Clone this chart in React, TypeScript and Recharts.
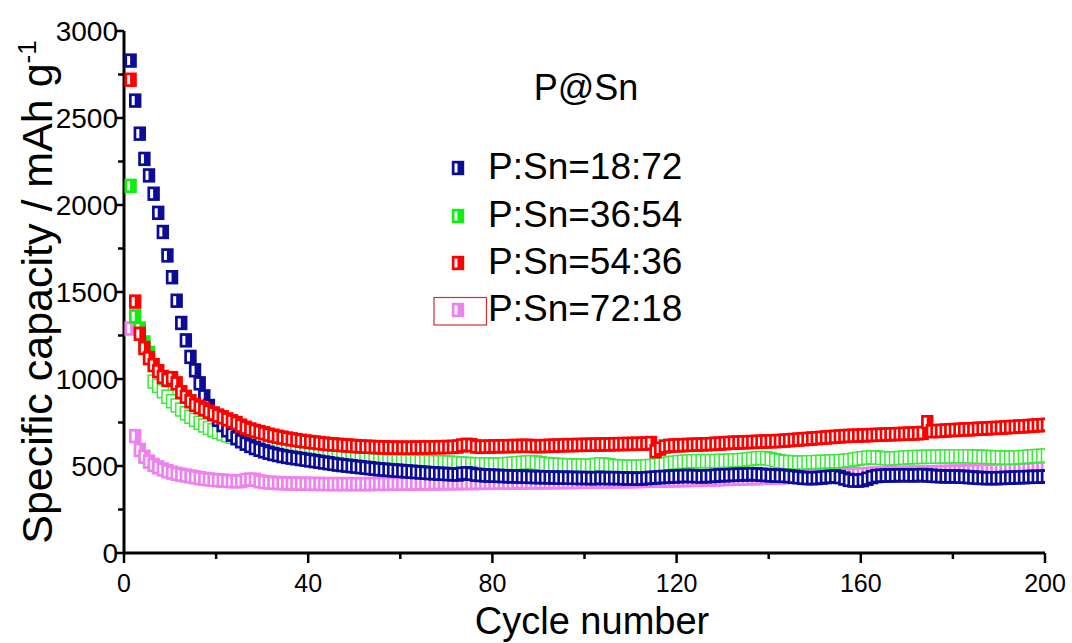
import React from 'react';
import { ScatterChart, Scatter, XAxis, YAxis } from 'recharts';

// cycle index (x categories)
const cycles: number[] = Array.from({ length: 200 }, (_, i) => i + 1);

// Specific capacity (mAh g-1), cycle 1..200
const capSn1872: number[] = [
  2830, 2600, 2410, 2265, 2170, 2065, 1955, 1845, 1710, 1585,
  1450, 1322, 1222, 1127, 1050, 975, 900, 845, 800, 765,
  735, 705, 680, 660, 642, 628, 615, 603, 593, 584,
  576, 569, 563, 557, 552, 548, 544, 540, 536, 532,
  528, 524, 520, 516, 512, 508, 505, 502, 499, 496,
  493, 490, 487, 484, 481, 479, 477, 475, 473, 471,
  469, 467, 465, 463, 461, 459, 458, 456, 455, 453,
  452, 451, 456, 458, 455, 450, 448, 446, 445, 444,
  443, 442, 441, 440, 440, 439, 438, 437, 436, 436,
  435, 434, 434, 433, 433, 432, 432, 431, 431, 431,
  430, 430, 432, 431, 430, 431, 430, 429, 428, 428,
  427, 428, 430, 432, 434, 436, 437, 438, 440, 441,
  442, 443, 442, 441, 440, 441, 442, 444, 446, 447,
  448, 449, 450, 451, 452, 453, 452, 450, 448, 446,
  445, 444, 443, 441, 438, 435, 432, 430, 430, 431,
  433, 436, 438, 440, 436, 428, 420, 416, 416, 419,
  427, 436, 442, 444, 445, 446, 446, 447, 447, 447,
  446, 447, 448, 446, 444, 442, 441, 440, 440, 440,
  439, 438, 436, 434, 432, 431, 430, 430, 430, 431,
  432, 433, 434, 435, 436, 437, 438, 438, 439, 440,
];

const capSn3654: number[] = [
  2110, 1360, 1290, 1210, 1150, 985, 960, 930, 898, 872,
  848, 825, 803, 783, 765, 748, 733, 718, 705, 695,
  686, 677, 668, 660, 652, 644, 637, 630, 624, 618,
  612, 606, 600, 595, 590, 585, 580, 576, 572, 568,
  564, 560, 557, 554, 551, 549, 547, 545, 543, 541,
  539, 537, 535, 533, 531, 530, 529, 528, 527, 526,
  526, 525, 525, 524, 524, 523, 522, 522, 521, 520,
  518, 516, 514, 512, 511, 510, 510, 509, 509, 508,
  508, 510, 512, 514, 516, 518, 520, 522, 520, 516,
  512, 510, 508, 506, 505, 504, 503, 502, 502, 501,
  502, 506, 510, 508, 504, 500, 498, 497, 496, 496,
  496, 497, 498, 500, 503, 507, 511, 515, 519, 522,
  524, 526, 527, 528, 528, 528, 528, 528, 529, 530,
  531, 532, 533, 535, 538, 541, 544, 546, 545, 540,
  533, 528, 524, 522, 521, 520, 520, 521, 522, 523,
  524, 525, 526, 527, 528, 530, 533, 537, 541, 545,
  548, 550, 549, 546, 544, 543, 544, 546, 548, 550,
  551, 552, 552, 553, 553, 554, 554, 555, 555, 556,
  556, 556, 556, 555, 554, 553, 552, 551, 550, 549,
  548, 548, 549, 550, 552, 554, 556, 558, 559, 560,
];

const capSn5436: number[] = [
  2720, 1445, 1260, 1178, 1120, 1080, 1045, 1012, 995, 1005,
  975, 925, 898, 872, 851, 838, 826, 812, 801, 790,
  780, 768, 757, 747, 732, 720, 710, 702, 695, 688,
  680, 674, 668, 663, 658, 653, 649, 645, 641, 638,
  635, 632, 629, 626, 624, 622, 620, 618, 616, 614,
  612, 611, 610, 609, 608, 607, 606, 606, 605, 605,
  605, 605, 606, 606, 607, 607, 608, 608, 609, 609,
  610, 612, 618, 622, 620, 612, 610, 611, 612, 613,
  613, 614, 614, 615, 615, 616, 616, 615, 614, 614,
  615, 616, 617, 618, 619, 620, 620, 621, 621, 622,
  622, 623, 623, 624, 624, 625, 626, 626, 627, 627,
  628, 628, 629, 632, 585, 600, 612, 616, 618, 619,
  620, 621, 622, 623, 624, 625, 626, 628, 629, 631,
  633, 634, 635, 636, 637, 638, 639, 640, 641, 642,
  643, 644, 646, 648, 650, 652, 654, 656, 658, 660,
  662, 664, 666, 668, 670, 672, 673, 674, 675, 676,
  677, 678, 679, 680, 681, 682, 683, 684, 685, 686,
  687, 688, 690, 752, 700, 701, 702, 704, 706, 707,
  708, 710, 711, 712, 714, 715, 716, 718, 719, 720,
  722, 724, 725, 727, 728, 730, 732, 734, 735, 737,
];

const capSn7218: number[] = [
  1290, 672, 592, 553, 525, 506, 492, 480, 470, 462,
  455, 450, 445, 440, 435, 430, 426, 423, 420, 418,
  416, 414, 413, 412, 413, 420, 422, 421, 412, 408,
  405, 403, 402, 401, 400, 399, 399, 398, 398, 397,
  397, 397, 396, 396, 396, 396, 396, 396, 396, 396,
  396, 396, 396, 397, 397, 397, 397, 398, 398, 398,
  398, 399, 399, 399, 400, 400, 400, 400, 401, 401,
  401, 401, 402, 402, 402, 402, 403, 403, 403, 403,
  404, 404, 404, 404, 405, 405, 405, 405, 406, 406,
  406, 406, 407, 407, 407, 408, 408, 408, 409, 409,
  409, 410, 410, 410, 411, 411, 412, 412, 412, 413,
  413, 414, 414, 415, 415, 416, 416, 417, 417, 418,
  419, 419, 420, 421, 421, 422, 423, 423, 424, 425,
  426, 426, 427, 428, 429, 430, 430, 431, 432, 433,
  434, 435, 436, 437, 438, 439, 440, 441, 442, 443,
  444, 445, 446, 447, 448, 449, 450, 451, 452, 453,
  454, 455, 456, 456, 457, 458, 459, 459, 460, 461,
  462, 462, 463, 464, 464, 465, 466, 466, 467, 468,
  468, 469, 470, 470, 471, 472, 473, 473, 474, 475,
  476, 477, 478, 479, 480, 481, 482, 484, 486, 488,
];

const seriesNames: string[] = ['P:Sn=18:72', 'P:Sn=36:54', 'P:Sn=54:36', 'P:Sn=72:18'];
const seriesColors: string[] = ['#0c0c96', '#10ee10', '#ff0000', '#ee82ee'];
const xTicks: number[] = [0, 20, 40, 60, 80, 100, 120, 140, 160, 180, 200];
const yTicks: number[] = [0, 250, 500, 750, 1000, 1250, 1500, 1750, 2000, 2250, 2500, 2750, 3000];

const toPoints = (vals: number[]) => cycles.map((c, i) => ({ cycle: c, cap: vals[i] }));
const dBlue = toPoints(capSn1872);
const dGreen = toPoints(capSn3654);
const dRed = toPoints(capSn5436);
const dPink = toPoints(capSn7218);

const FONT = 'Liberation Sans, Arial, Helvetica, sans-serif';
const MW = 11;
const MH = 13;

function HalfSquare({ cx, cy, color, hollow }: { cx: number; cy: number; color: string; hollow?: boolean }) {
  if (cx == null || cy == null) return null;
  const x = cx - MW / 2 + 2;
  const y = cy - MH / 2;
  if (hollow) {
    return <rect x={x} y={y} width={MW} height={MH} fill="#f4fff4" stroke={color} strokeWidth={1.5} />;
  }
  return (
    <g>
      <rect x={x} y={y} width={MW} height={MH} fill={color} stroke={color} strokeWidth={1.4} />
      <rect x={x + 2} y={y + 2} width={3} height={MH - 4} fill="#ffffff" />
    </g>
  );
}

const XTick = (props: any) => {
  const { x, y, payload } = props;
  const major = payload.value % 40 === 0;
  return (
    <g>
      <line x1={x} x2={x} y1={y} y2={y + (major ? 10 : 6)} stroke="#000" strokeWidth={2.5} />
      {major && (
        <text x={x} y={y + 39} textAnchor="middle" fontFamily={FONT} fontSize={25} fill="#000">
          {payload.value}
        </text>
      )}
    </g>
  );
};

const YTick = (props: any) => {
  const { x, y, payload } = props;
  const major = payload.value % 500 === 0;
  return (
    <g>
      <line x1={x} x2={x - (major ? 9 : 6)} y1={y} y2={y} stroke="#000" strokeWidth={2.5} />
      {major && (
        <text x={x - 6} y={y + 10} textAnchor="end" fontFamily={FONT} fontSize={28} fill="#000">
          {payload.value}
        </text>
      )}
    </g>
  );
};

export default function App() {
  const axisLine = { stroke: '#000', strokeWidth: 3 };
  return (
    <div style={{ position: 'absolute', left: 0, top: 0, width: 1072, height: 643, background: '#fff' }}>
      <ScatterChart width={1072} height={643} margin={{ top: 31, right: 27, bottom: 0, left: 0 }}>
        <XAxis
          xAxisId="b"
          dataKey="cycle"
          type="number"
          domain={[0, 200]}
          ticks={xTicks}
          tick={<XTick />}
          tickLine={false}
          tickSize={0}
          tickMargin={0}
          axisLine={axisLine}
          height={90}
          allowDataOverflow
        />
        <XAxis xAxisId="t" orientation="top" type="number" domain={[0, 200]} tick={false} tickLine={false} axisLine={axisLine} height={0} allowDataOverflow />
        <YAxis
          yAxisId="l"
          dataKey="cap"
          type="number"
          domain={[0, 3000]}
          ticks={yTicks}
          tick={<YTick />}
          tickLine={false}
          tickSize={0}
          tickMargin={0}
          axisLine={axisLine}
          width={124}
          allowDataOverflow
        />
        <YAxis yAxisId="r" orientation="right" type="number" domain={[0, 3000]} tick={false} tickLine={false} axisLine={axisLine} width={0} allowDataOverflow />
        <Scatter xAxisId="b" yAxisId="l" name={seriesNames[3]} data={dPink} isAnimationActive={false}
          shape={(p: any) => <HalfSquare cx={p.cx} cy={p.cy} color={seriesColors[3]} />} />
        <Scatter xAxisId="b" yAxisId="l" name={seriesNames[1]} data={dGreen} isAnimationActive={false}
          shape={(p: any) => <HalfSquare cx={p.cx} cy={p.cy} color={p.payload && p.payload.cycle > 5 ? '#3ee63e' : seriesColors[1]} hollow={p.payload && p.payload.cycle > 5} />} />
        <Scatter xAxisId="b" yAxisId="l" name={seriesNames[0]} data={dBlue} isAnimationActive={false}
          shape={(p: any) => <HalfSquare cx={p.cx} cy={p.cy} color={seriesColors[0]} />} />
        <Scatter xAxisId="b" yAxisId="l" name={seriesNames[2]} data={dRed} isAnimationActive={false}
          shape={(p: any) => <HalfSquare cx={p.cx} cy={p.cy} color={seriesColors[2]} />} />
      </ScatterChart>
      <svg width={1072} height={643} style={{ position: 'absolute', left: 0, top: 0, pointerEvents: 'none' }}>
        <text x={586} y={100} textAnchor="middle" fontFamily={FONT} fontSize={36} fill="#000">P@Sn</text>
        {seriesNames.map((n, i) => {
          const rowY = [168, 216, 263, 310][i];
          return (
            <g key={n}>
              <HalfSquare cx={456} cy={rowY} color={seriesColors[i]} />
              <text x={488} y={rowY + 11} fontFamily={FONT} fontSize={37} fill="#000">{n}</text>
            </g>
          );
        })}
        <rect x={434} y={297.5} width={52.5} height={27.5} fill="none" stroke="#c83232" strokeWidth={1.2} />
        <text x={592} y={634} textAnchor="middle" fontFamily={FONT} fontSize={38} fill="#000">Cycle number</text>
        <text transform="translate(52,292) rotate(-90)" textAnchor="middle" fontFamily={FONT} fontSize={43} fill="#000">
          Specific capacity / mAh g<tspan dy={-16} fontSize={26}>-1</tspan>
        </text>
      </svg>
    </div>
  );
}
